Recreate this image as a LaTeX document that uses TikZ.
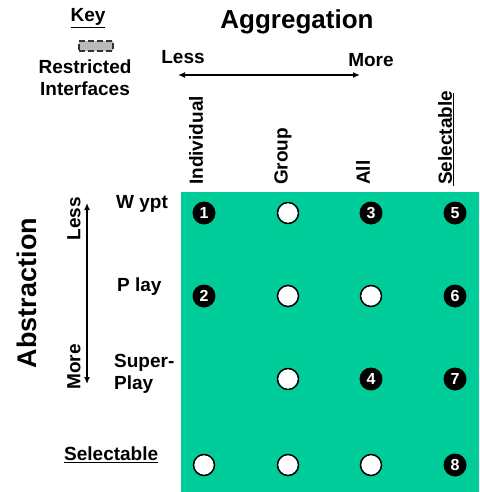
\documentclass[tikz,border=0pt]{standalone}
\usepackage{fontspec}
\setmainfont{Liberation Sans}
\usetikzlibrary{arrows.meta}
\definecolor{grn}{HTML}{00CC99}
\begin{document}
\begin{tikzpicture}[x=1pt,y=-1pt,
  lbl/.style={font=\bfseries\fontsize{19}{21}\selectfont, inner sep=0pt},
  hdr/.style={font=\bfseries\fontsize{19}{21}\selectfont, inner sep=0pt, rotate=90, anchor=west},
  wc/.style={circle, draw=black, line width=1.5pt, fill=white, minimum size=21pt, inner sep=0pt},
  bc/.style={circle, fill=black, minimum size=23pt, inner sep=0pt, text=white, font=\bfseries\fontsize{16}{16}\selectfont},
  arr/.style={{Latex[length=7pt,width=6pt]}-{Latex[length=7pt,width=6pt]}, line width=1.4pt}]
\useasboundingbox (0,0) rectangle (479,492);
\fill[grn] (181,192) rectangle (479,492);
% key
\node[lbl] (key) at (88,18) {\underline{Key}};
\node[draw=black!80, dash pattern=on 6pt off 3pt, line width=2.5pt, fill=gray!55, minimum width=34pt, minimum height=10pt, inner sep=0pt] (keybox) at (96,46) {};
\node[lbl, align=center, font=\bfseries\fontsize{19}{22}\selectfont] (restr) at (85,78) {Restricted\\Interfaces};
% aggregation
\node[lbl, font=\bfseries\fontsize{26}{28}\selectfont] (agg) at (297,22) {Aggregation};
\node[lbl] (aless) at (183,57) {Less};
\node[lbl] (amore) at (371,60) {More};
\coordinate (al) at (178,75);
\coordinate (ar) at (360,75);
\draw[arr] (al) -- (ar);
% column headers
\node[hdr] (cind) at (196,185) {Individual};
\node[hdr] (cgrp) at (283,185) {Group};
\node[hdr] (call) at (363,185) {All};
\node[hdr] (csel) at (445,185) {Selectable};
\draw[line width=1pt] (453,186) -- (453,93);
% abstraction
\node[lbl, rotate=90, font=\bfseries\fontsize{27}{29}\selectfont] (abs) at (27,293) {Abstraction};
\node[lbl, rotate=90, anchor=east] (vless) at (74,197) {Less};
\node[lbl, rotate=90, anchor=west] (vmore) at (74,390) {More};
\coordinate (vt) at (87,203);
\coordinate (vb) at (87,384);
\draw[arr] (vt) -- (vb);
% row labels
\node[lbl, anchor=west] (rw) at (116,204) {W ypt};
\node[lbl, anchor=west] (rp) at (117,287) {P lay};
\node[lbl, anchor=west, align=left, font=\bfseries\fontsize{19}{22}\selectfont] (rs) at (114,374) {Super-\\Play};
\node[lbl, anchor=west] (rsel) at (64,455) {\underline{Selectable}};
% circles
\node[bc] (n1) at (204,213) {1};
\node[wc] (g1) at (288,213) {};
\node[bc] (n3) at (371,213) {3};
\node[bc] (n5) at (455,213) {5};
\node[bc] (n2) at (204,296) {2};
\node[wc] (g2) at (288,296) {};
\node[wc] (a2) at (371,296) {};
\node[bc] (n6) at (455,296) {6};
\node[wc] (g3) at (288,379) {};
\node[bc] (n4) at (371,379) {4};
\node[bc] (n7) at (455,379) {7};
\node[wc] (i4) at (204,465) {};
\node[wc] (g4) at (288,465) {};
\node[wc] (a4) at (371,465) {};
\node[bc] (n8) at (455,465) {8};
\end{tikzpicture}
\end{document}
